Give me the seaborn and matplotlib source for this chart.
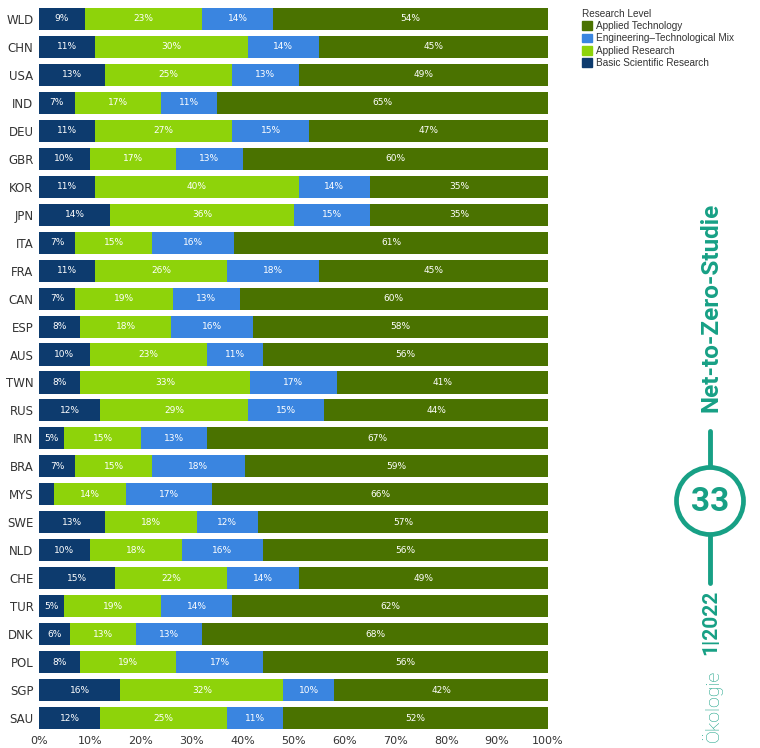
import numpy as np
import pandas as pd
import seaborn as sns
import matplotlib.pyplot as plt
from matplotlib.patches import Patch, Circle

countries = ["WLD", "CHN", "USA", "IND", "DEU", "GBR", "KOR", "JPN", "ITA", "FRA",
             "CAN", "ESP", "AUS", "TWN", "RUS", "IRN", "BRA", "MYS", "SWE", "NLD",
             "CHE", "TUR", "DNK", "POL", "SGP", "SAU"]
basic_research = [9, 11, 13, 7, 11, 10, 11, 14, 7, 11, 7, 8, 10, 8, 12, 5, 7, 3, 13, 10, 15, 5, 6, 8, 16, 12]
applied_research = [23, 30, 25, 17, 27, 17, 40, 36, 15, 26, 19, 18, 23, 33, 29, 15, 15, 14, 18, 18, 22, 19, 13, 19, 32, 25]
eng_mix = [14, 14, 13, 11, 15, 13, 14, 15, 16, 18, 13, 16, 11, 17, 15, 13, 18, 17, 12, 16, 14, 14, 13, 17, 10, 11]
applied_tech = [54, 45, 49, 65, 47, 60, 35, 35, 61, 45, 60, 58, 56, 41, 44, 67, 59, 66, 57, 56, 49, 62, 68, 56, 42, 52]

layers = ["Basic Scientific Research", "Applied Research", "Engineering\u2013Technological Mix", "Applied Technology"]
colors = {"Basic Scientific Research": "#0d3b6e",
          "Applied Research": "#8ed30a",
          "Engineering\u2013Technological Mix": "#3a85e0",
          "Applied Technology": "#4a7200"}

df = pd.DataFrame({"country": countries,
                   "Basic Scientific Research": basic_research,
                   "Applied Research": applied_research,
                   "Engineering\u2013Technological Mix": eng_mix,
                   "Applied Technology": applied_tech})
# shares are rounded, so scale each row to a full 100 %
shares = df[layers].div(df[layers].sum(axis=1), axis=0) * 100
cum = shares.cumsum(axis=1)

sns.set_style("white")
plt.rcParams['font.family'] = ['DejaVu Sans']

fig = plt.figure(figsize=(7.6, 7.48), dpi=100)
ax = fig.add_axes([39 / 760, 1 - 732 / 748, (548 - 39) / 760, (732 - 5) / 748])

# stacked bars: draw cumulative totals from the largest down
for layer in reversed(layers):
    sns.barplot(x=cum[layer], y=df["country"], color=colors[layer], width=0.79,
                orient="h", ax=ax, saturation=1, linewidth=0)

# segment labels
for i in range(len(df)):
    left = 0
    for layer in layers:
        w = shares.loc[i, layer]
        v = df.loc[i, layer]
        if v >= 4:
            ax.text(left + w / 2, i, f"{v}%", ha="center", va="center",
                    color="white", fontsize=6.5)
        left += w

ax.set_xlim(0, 100)
ax.set_ylim(25.5, -0.5)
ax.set_xticks(np.arange(0, 101, 10))
ax.set_xticklabels([f"{t}%" for t in range(0, 101, 10)], fontsize=8, color="#333333")
ax.tick_params(axis="y", labelsize=8.5, labelcolor="#333333", length=0, pad=4)
ax.tick_params(axis="x", length=0, pad=3)
ax.set_xlabel("")
ax.set_ylabel("")
sns.despine(ax=ax, left=True, bottom=True)

handles = [Patch(color=colors[l], label=l) for l in reversed(layers)]
leg = fig.legend(handles=handles, title="Research Level", loc="upper left",
                 bbox_to_anchor=(577 / 760, 1 - 4 / 748), frameon=False,
                 prop={"family": "Liberation Sans", "size": 7.2},
                 handlelength=1.0, handleheight=1.0, handletextpad=0.35,
                 labelspacing=0.22, borderpad=0, alignment="left", labelcolor="#333333")
leg.get_title().set_fontfamily("Liberation Sans")
leg.get_title().set_fontsize(7.2)
leg.get_title().set_color("#333333")

# side decoration
teal = "#17a085"
deco = fig.add_axes([0, 0, 1, 1], facecolor="none")
deco.set_xlim(0, 760)
deco.set_ylim(748, 0)
deco.axis("off")
deco.text(711, 307, "Net-to-Zero-Studie", rotation=90, ha="center", va="center",
          color=teal, fontsize=17.5, fontweight="bold", family="Roboto")
deco.plot([710, 710], [431, 466], color=teal, lw=3.5, solid_capstyle="round")
deco.plot([710, 710], [536, 583], color=teal, lw=3.5, solid_capstyle="round")
deco.add_patch(Circle((710, 501), 33.5, fill=False, edgecolor=teal, lw=3.4))
deco.text(710, 502, "33", ha="center", va="center", color=teal, fontsize=24,
          fontweight="bold", family="Roboto")
deco.text(711, 622, "1|2022", rotation=90, ha="center", va="center",
          color=teal, fontsize=15, fontweight="bold", family="Roboto")
deco.text(712, 706, "Ökologie", rotation=90, ha="center", va="center",
          color=teal, fontsize=14, fontweight="light", family="Roboto")

fig.savefig("out.png", dpi=100)
